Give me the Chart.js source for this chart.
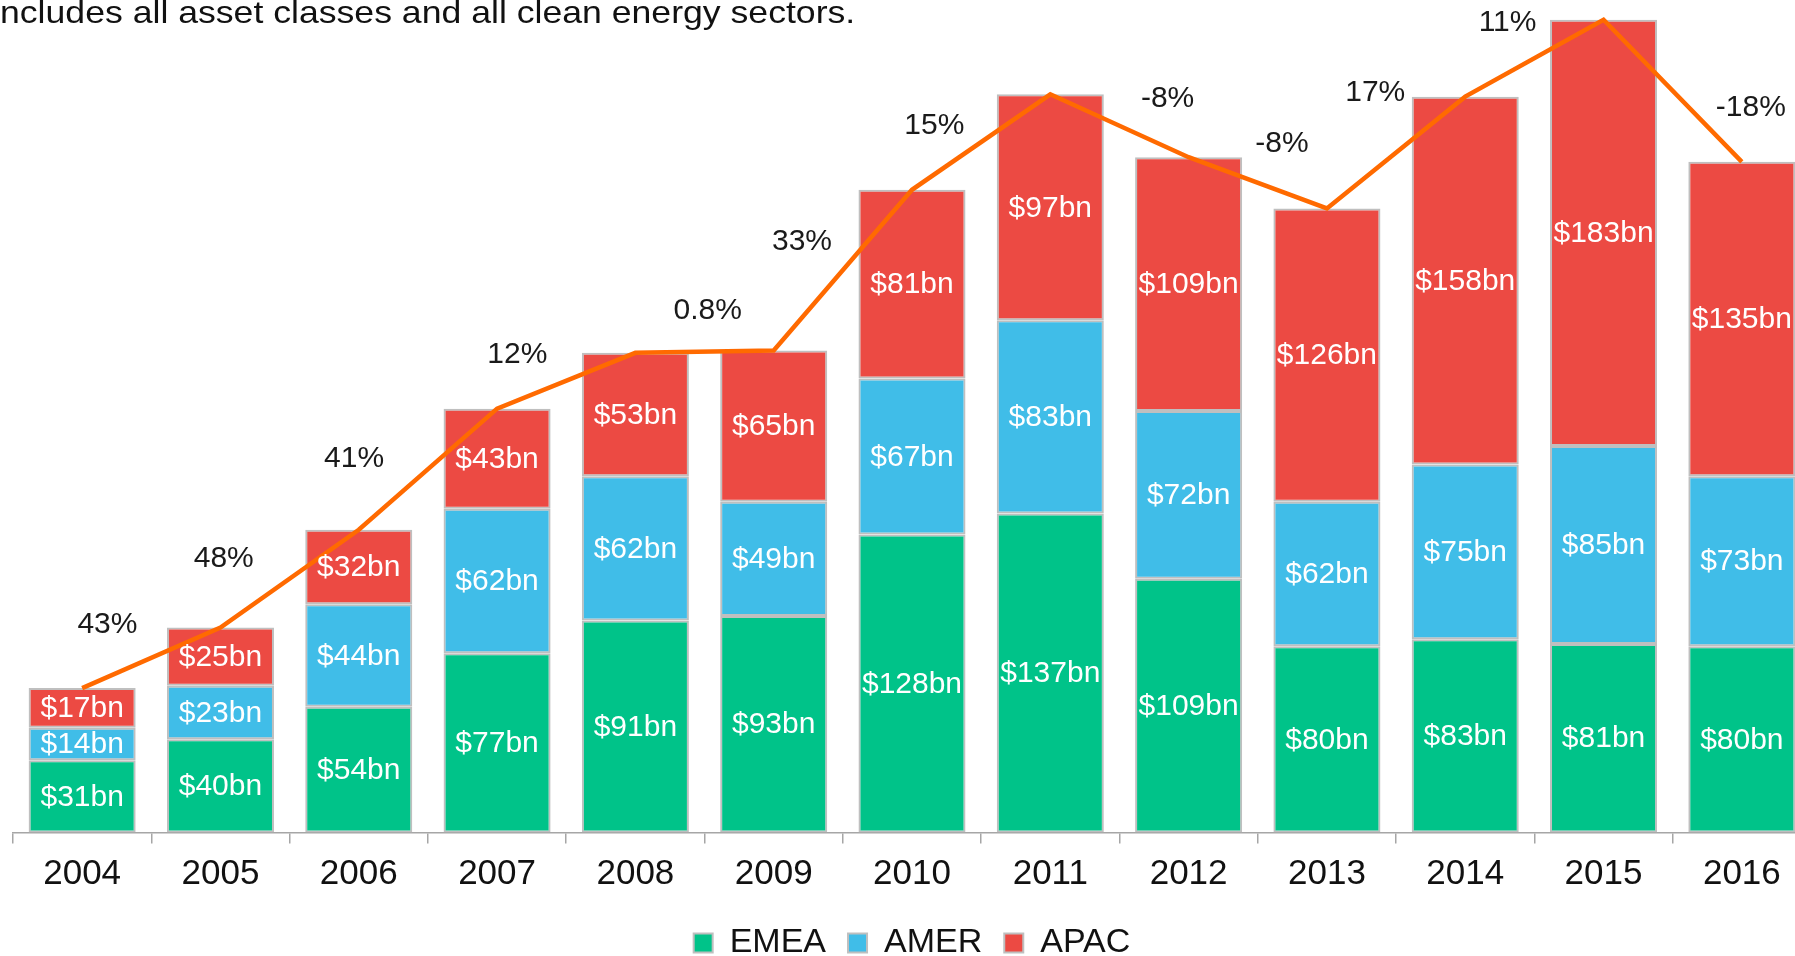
<!DOCTYPE html>
<html lang="en">
<head>
<meta charset="UTF-8">
<title>Clean energy investment by region</title>
<script src="https://cdn.jsdelivr.net/npm/chart.js@4.4.4/dist/chart.umd.js"></script>
<style>
  html, body { margin: 0; padding: 0; background: #fff; overflow: hidden; }
  #wrap { position: relative; width: 1795px; height: 956px; overflow: hidden; }
  #note {
    position: absolute; left: 0; top: -4px; z-index: 2;
    font: 32px 'Liberation Sans', Arial, sans-serif; line-height: 32px;
    color: #111; white-space: nowrap;
    transform: scaleX(1.113); transform-origin: left top;
  }
  #myChart { position: absolute; left: 0; top: 0; }
</style>
</head>
<body>
<div id="wrap">
  <div id="note">ncludes all asset classes and all clean energy sectors.</div>
  <canvas id="myChart" width="1812" height="970"></canvas>
</div>
<script>
// years on the x axis
const years = ['2004', '2005', '2006', '2007', '2008', '2009', '2010',
               '2011', '2012', '2013', '2014', '2015', '2016'];

// investment per region, $bn
const emea = [31, 40, 54, 77, 91, 93, 128, 137, 109, 80, 83, 81, 80];
const amer = [14, 23, 44, 62, 62, 49, 67, 83, 72, 62, 75, 85, 73];
const apac = [17, 25, 32, 43, 53, 65, 81, 97, 109, 126, 158, 183, 135];

// year-on-year growth shown above the total line
const growth = ['', '43%', '48%', '41%', '12%', '0.8%', '33%', '15%', '-8%', '-8%', '17%', '11%', '-18%'];

const totals = years.map((y, i) => emea[i] + amer[i] + apac[i]);

const FONT = "'Liberation Sans', Arial, sans-serif";

// white $bn labels inside each segment + black growth labels by the line
const labelPlugin = {
  id: 'valueLabels',
  afterDatasetsDraw(chart, args, opts) {
    const ctx = chart.ctx;
    ctx.save();
    ctx.textAlign = 'center';
    ctx.textBaseline = 'middle';

    ctx.font = '30px ' + FONT;
    ctx.fillStyle = '#ffffff';
    chart.data.datasets.forEach((ds, di) => {
      if (ds.type === 'line') return;
      chart.getDatasetMeta(di).data.forEach((bar, i) => {
        const y = (bar.y + bar.base) / 2;
        ctx.fillText('$' + ds.data[i] + 'bn', bar.x, y + 1);
      });
    });

    const lineMeta = chart.getDatasetMeta(3);
    ctx.font = '30px ' + FONT;
    ctx.fillStyle = '#1a1a1a';
    lineMeta.data.forEach((pt, i) => {
      if (!growth[i]) return;
      const off = opts.offsets[i];
      ctx.fillText(growth[i], pt.x + off[0], pt.y + off[1]);
    });
    ctx.restore();
  }
};

const ctx = document.getElementById('myChart').getContext('2d');
const myChart = new Chart(ctx, {
  type: 'bar',
  data: {
    labels: years,
    datasets: [
      {
        label: 'EMEA',
        data: emea,
        backgroundColor: '#00c389',
        borderColor: '#bfbfbf',
        borderWidth: 2,
        borderSkipped: false,
        order: 1
      },
      {
        label: 'AMER',
        data: amer,
        backgroundColor: '#40bde8',
        borderColor: '#bfbfbf',
        borderWidth: 2,
        borderSkipped: false,
        order: 1
      },
      {
        label: 'APAC',
        data: apac,
        backgroundColor: '#ec4a43',
        borderColor: '#bfbfbf',
        borderWidth: 2,
        borderSkipped: false,
        order: 1
      },
      {
        type: 'line',
        label: 'Total',
        data: totals,
        stack: 'total',
        borderColor: '#ff6a00',
        borderWidth: 4.5,
        pointRadius: 0,
        tension: 0,
        fill: false,
        order: 0
      }
    ]
  },
  options: {
    responsive: false,
    animation: false,
    layout: { padding: { left: 13, right: 1, top: 0, bottom: 0 } },
    datasets: {
      bar: { categoryPercentage: 1, barPercentage: 0.774 }
    },
    scales: {
      x: {
        stacked: true,
        grid: {
          drawOnChartArea: false,
          drawTicks: true,
          tickLength: 11,
          color: '#a6a6a6',
          lineWidth: 1.5
        },
        border: { display: true, color: '#a6a6a6', width: 1.5 },
        ticks: {
          color: '#111',
          padding: 10,
          maxRotation: 0,
          font: { family: FONT, size: 35 }
        },
        afterFit(scale) { scale.height = 71.5; }
      },
      y: {
        stacked: true,
        display: false,
        min: 0,
        max: 357.5
      }
    },
    plugins: {
      tooltip: { enabled: false },
      legend: {
        position: 'bottom',
        labels: {
          filter: item => item.text !== 'Total',
          boxWidth: 19,
          boxHeight: 19,
          padding: 22,
          color: '#111',
          font: { family: FONT, size: 34 }
        }
      },
      valueLabels: {
        offsets: [[0, 0], [-113, -3], [-135, 29], [-143, 50], [-118, 2], [-66, -40],
                  [-110, 52], [-116, 31], [-21, -58], [-45, -65], [-90, -4], [-96, 3], [9, -54]]
      }
    }
  },
  plugins: [labelPlugin]
});
</script>
</body>
</html>
